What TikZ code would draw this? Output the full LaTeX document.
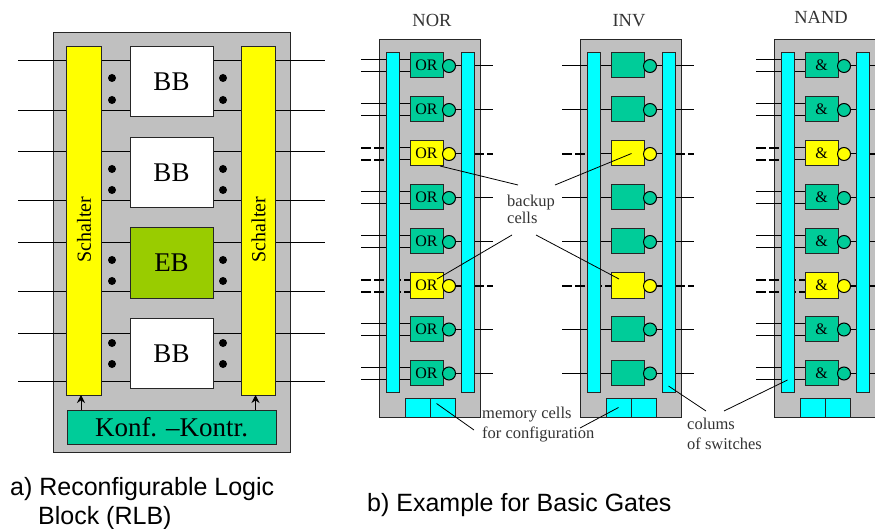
\documentclass[tikz,border=0pt]{standalone}
\usepackage{fontspec}
\setmainfont{Liberation Serif}
\newfontfamily\capfont{Liberation Sans}
\usetikzlibrary{arrows.meta}
\definecolor{panelgray}{HTML}{C0C0C0}
\definecolor{gategreen}{HTML}{00CC99}
\definecolor{ebgreen}{HTML}{99CC00}
\definecolor{swcyan}{HTML}{00FFFF}
\definecolor{swyellow}{HTML}{FFFF00}
\tikzset{
  box/.style={rectangle,draw=black!85,line width=1pt,inner sep=0pt,outer sep=0pt},
  dotmark/.style={circle,fill=black,inner sep=0pt,minimum size=8pt},
  wire/.style={draw=black,line width=1pt},
  dashwire/.style={draw=black,line width=1.8pt,dash pattern=on 10pt off 3pt},
  dashin/.style={draw=black,line width=1.4pt,dash pattern=on 6pt off 3pt},
  thickwire/.style={draw=black,line width=1.8pt},
  leader/.style={draw=black,line width=0.8pt},
  note/.style={font=\fontsize{16.5}{20}\selectfont,align=left,inner sep=0pt,anchor=north west,text=black!80},
  caption/.style={font=\capfont\fontsize{25}{29}\selectfont,align=left,inner sep=0pt,anchor=north west}
}
\begin{document}
\begin{tikzpicture}[x=1pt,y=-1pt,>={Stealth[black,length=8pt,width=8pt]}]
  \useasboundingbox (0,0) rectangle (875,529);

  % left block
  \node[box,fill=panelgray,minimum width=237pt,minimum height=419pt] (rlb) at (171.5,242.5) {};
  \foreach \n/\y in {1/61,2/110.5,3/152,4/200.5,5/243,6/291.5,7/333,8/381.5} {
    \coordinate (wl\n) at (18,\y);
    \coordinate (wr\n) at (325,\y);
    \draw[wire] (wl\n) -- (wr\n);
  }
  \begin{scope}[every node/.style={box,minimum width=83pt,minimum height=70pt,
      font=\fontsize{27}{27}\selectfont}]
    \node[fill=white] (bb1) at (171.5,82) {BB};
    \node[fill=white] (bb2) at (171.5,172.5) {BB};
    \node[fill=ebgreen] (eb) at (171.5,263) {EB};
    \node[fill=white] (bb3) at (171.5,353.5) {BB};
  \end{scope}
  \begin{scope}[every node/.style={box,fill=swyellow,minimum width=34.5pt,minimum height=348pt}]
    \node (sw1) at (84,221) {};
    \node (sw2) at (258.5,221) {};
  \end{scope}
  \begin{scope}[every node/.style={rotate=90,inner sep=0pt,font=\fontsize{20}{20}\selectfont}]
    \node (sw1txt) at (84,229.5) {Schalter};
    \node (sw2txt) at (258.5,229.5) {Schalter};
  \end{scope}
  \node[box,fill=gategreen,minimum width=209pt,minimum height=34pt,
    font=\fontsize{27}{27}\selectfont] (konf) at (171.5,427) {Konf. --Kontr.};
  \draw[->,wire] ([xshift=-3pt]konf.north -| sw1.south) -- ([xshift=-3pt]sw1.south);
  \draw[->,wire] ([xshift=-3pt]konf.north -| sw2.south) -- ([xshift=-3pt]sw2.south);
  \foreach \n/\a/\b in {1/78/100,2/169/190,3/260/281,4/343/364} {
    \node[dotmark] (dl\n a) at (112,\a) {};
    \node[dotmark] (dl\n b) at (112,\b) {};
    \node[dotmark] (dr\n a) at (223,\a) {};
    \node[dotmark] (dr\n b) at (223,\b) {};
  }

  % the three gate columns
  \foreach \px/\nm/\gtxt/\ins/\ttl/\tx/\tb in {379/nor/OR/{7,19}/NOR/432/27,
      580/inv/{}/{13}/INV/629/27,774/nand/\&/{7,19}/NAND/821/24} {
    \node[box,fill=panelgray,minimum width=101pt,minimum height=377pt] (\nm) at (\px+50.5,228.5) {};
    \node[anchor=base,inner sep=0pt,font=\fontsize{18.5}{18.5}\selectfont,text=black!80] (\nm t) at (\tx,\tb) {\ttl};
    \foreach \r/\ty/\col/\lo/\li/\ro in {1/53/gategreen/wire/wire/wire,
        2/97/gategreen/wire/wire/wire,
        3/141/swyellow/dashwire/wire/wire,
        4/185/gategreen/wire/wire/wire,
        5/229/gategreen/wire/wire/wire,
        6/273/swyellow/dashwire/dashin/thickwire,
        7/316.5/gategreen/wire/wire/wire,
        8/360.5/gategreen/wire/wire/wire} {
      \node[box,fill=\col,minimum width=33pt,minimum height=25pt,
        font=\fontsize{16}{16}\selectfont] (\nm g\r) at (\px+47.5,\ty+12.5) {\gtxt};
      \node[circle,draw=black,line width=1pt,fill=\col,inner sep=0pt,minimum size=13pt] (\nm c\r) at (\px+70,\ty+13) {};
      \foreach \i in \ins {
        \coordinate (\nm a\r\i) at (\px-18,\ty+\i);
        \coordinate (\nm b\r\i) at (\px+7,\ty+\i);
        \draw[\lo] (\nm a\r\i) -- (\nm b\r\i);
        \draw[\li] (\nm b\r\i) -- (\nm g\r.west |- \nm b\r\i);
      }
      \coordinate (\nm o\r) at (\px+95,\ty+13);
      \coordinate (\nm e\r) at (\px+114,\ty+13);
      \draw[\ro] (\nm c\r.east) -- (\nm o\r);
      \draw[\lo] (\nm o\r) -- (\nm e\r);
    }
    \node[box,fill=swcyan,minimum width=13pt,minimum height=339pt] (\nm l) at (\px+13.5,222.5) {};
    \node[box,fill=swcyan,minimum width=13pt,minimum height=339pt] (\nm r) at (\px+88.5,222.5) {};
    \node[box,fill=swcyan,minimum width=25pt,minimum height=19pt] (\nm m1) at (\px+38.5,407.5) {};
    \node[box,fill=swcyan,minimum width=25pt,minimum height=19pt] (\nm m2) at (\px+63.5,407.5) {};
  }

  % notes
  \node[note] (backup) at (507,195) {backup\\[-3pt]cells};
  \node[note] (memtxt) at (482,407) {memory cells\\for configuration};
  \node[note] (colstxt) at (687,418) {colums\\of switches};
  \node[caption] (capa) at (10,477) {a) Reconfigurable Logic\\\hspace*{28pt}Block (RLB)};
  \node[caption] (capb) at (367,493) {b) Example for Basic Gates};

  \coordinate (bkA) at (518,185);
  \coordinate (bkB) at (512,235);
  \coordinate (bkC) at (536,235);
  \coordinate (bkD) at (555,185);
  \coordinate (meA) at (474,430);
  \coordinate (meB) at (580,428);
  \coordinate (coA) at (706,411);
  \coordinate (coB) at (724,411);
  \path[leader] ([xshift=-3pt]norg3.south east) edge (bkA);
  \path[leader] ([xshift=-6pt,yshift=-6pt]norg6.north east) edge (bkB);
  \path[leader] ([xshift=8pt,yshift=-6pt]invg6.north west) edge (bkC);
  \path[leader] ([xshift=4pt]invg3.center) edge (bkD);
  \path[leader] ([xshift=-6pt,yshift=4pt]norm2.center) edge (meA);
  \path[leader] (invm1.center) edge (meB);
  \path[leader] ([yshift=6pt]invr.south) edge (coA);
  \path[leader] ([yshift=12pt]nandl.south) edge (coB);
\end{tikzpicture}
\end{document}
